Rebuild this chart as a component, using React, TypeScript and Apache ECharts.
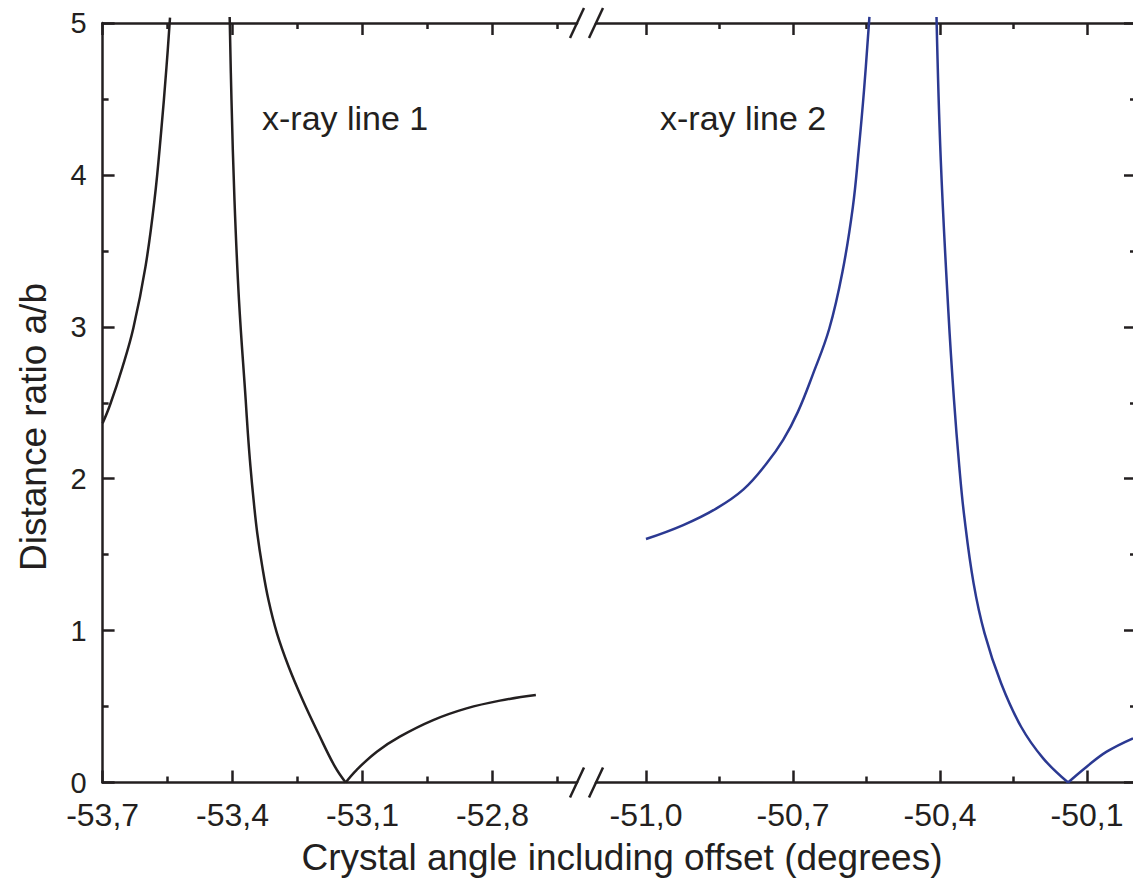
import React, { useEffect, useRef } from "react";
import * as echarts from "echarts";

// ---------- data ----------
const leftMajorTicks = [-53.7, -53.4, -53.1, -52.8];
const leftMinorTicks = [-53.55, -53.25, -52.95, -52.65];
const rightMajorTicks = [-51.0, -50.7, -50.4, -50.1];
const rightMinorTicks = [-50.85, -50.55, -50.25];

// x-ray line 1 (black)
const line1BranchA = [
  [-53.7, 2.365], [-53.6829, 2.485], [-53.6541, 2.735], [-53.6291, 2.99],
  [-53.601, 3.396], [-53.5802, 3.835], [-53.5652, 4.274], [-53.5525, 4.712],
  [-53.5444, 5.035],
];
const line1BranchB = [
  [-53.4067, 5.04], [-53.4025, 4.493], [-53.3956, 3.835], [-53.3852, 3.176],
  [-53.3697, 2.518], [-53.3647, 2.299], [-53.3587, 2.079], [-53.3515, 1.86],
  [-53.343, 1.641], [-53.3314, 1.421], [-53.3171, 1.201], [-53.2975, 0.982],
  [-53.2705, 0.762], [-53.2382, 0.543], [-53.2022, 0.324], [-53.1637, 0.104],
  [-53.139, 0.0],
];
const line1BranchC = [
  [-53.139, 0.0], [-53.114, 0.082], [-53.067, 0.203], [-53.014, 0.302],
  [-52.937, 0.411], [-52.86, 0.488], [-52.783, 0.539], [-52.7, 0.576],
];

// x-ray line 2 (blue)
const line2BranchA = [
  [-51.0, 1.603], [-50.924, 1.695], [-50.856, 1.805], [-50.801, 1.93],
  [-50.754, 2.1], [-50.72, 2.255], [-50.69, 2.44], [-50.66, 2.682],
  [-50.626, 2.987], [-50.599, 3.362], [-50.578, 3.785], [-50.566, 4.16],
  [-50.555, 4.559], [-50.544, 5.04],
];
const line2BranchB = [
  [-50.4071, 5.04], [-50.3984, 4.098], [-50.3829, 3.1], [-50.3714, 2.518],
  [-50.3606, 2.079], [-50.3504, 1.75], [-50.3314, 1.311], [-50.309, 0.982],
  [-50.2753, 0.653], [-50.2345, 0.367], [-50.1894, 0.159], [-50.1386, 0.0],
];
const line2BranchC = [
  [-50.1386, 0.0], [-50.1006, 0.104], [-50.0598, 0.203], [-50.0061, 0.291],
];

const xTitle = "Crystal angle including offset (degrees)";
const yTitle = "Distance ratio a/b";
const label1 = "x-ray line 1";
const label2 = "x-ray line 2";

// ---------- styles ----------
const INK = "#231f20";
const BLUE = "#2b3992";
const FONT = "'Liberation Sans', Arial, Helvetica, sans-serif";
const AXW = 2.5;

const fmt = (v: number) => v.toFixed(1).replace(".", ",");

function xAxisDef(
  gridIndex: number,
  position: "top" | "bottom",
  min: number,
  max: number,
  ticks: number[],
  major: boolean,
  showLine: boolean,
  showLabel: boolean
) {
  return {
    type: "value",
    gridIndex,
    position,
    min,
    max,
    axisLine: { show: showLine, onZero: false, lineStyle: { color: INK, width: AXW } },
    axisTick: {
      show: true,
      inside: true,
      length: major ? 12 : 6,
      customValues: ticks,
      lineStyle: { color: INK, width: AXW },
    },
    axisLabel: {
      show: showLabel,
      customValues: ticks,
      formatter: fmt,
      color: INK,
      fontSize: 32,
      fontFamily: FONT,
      margin: 16,
    },
    splitLine: { show: false },
    minorTick: { show: false },
  };
}

export default function App() {
  const ref = useRef<HTMLDivElement>(null);

  useEffect(() => {
    if (!ref.current) return;
    const chart = echarts.init(ref.current, undefined, { renderer: "svg" });

    const leftMin = -53.7;
    const leftMax = -52.605;
    const rightMin = -51.102;
    const rightMax = -50.0;
    const top = 23;
    const height = 759.5;

    const yAxisCommon = {
      type: "value",
      min: 0,
      max: 5,
      interval: 1,
      axisLine: { show: true, onZero: false, lineStyle: { color: INK, width: AXW } },
      axisTick: { show: true, inside: true, length: 12, lineStyle: { color: INK, width: AXW } },
      minorTick: { show: true, splitNumber: 2, length: 6, lineStyle: { color: INK, width: AXW } },
      splitLine: { show: false },
      minorSplitLine: { show: false },
    };

    const lineSeries = (data: number[][], color: string, xi: number, yi: number, name: string) => ({
      type: "line",
      name,
      xAxisIndex: xi,
      yAxisIndex: yi,
      data,
      symbol: "none",
      smooth: 0.4,
      clip: false,
      lineStyle: { color, width: 2.5 },
      itemStyle: { color },
    });

    const slash = (x1: number, y1: number, x2: number, y2: number) => ({
      type: "line",
      shape: { x1, y1, x2, y2 },
      style: { stroke: INK, lineWidth: 2.5 },
      z: 100,
    });

    chart.setOption({
      animation: false,
      backgroundColor: "#ffffff",
      grid: [
        { left: 102.6, top, width: 474.4, height, containLabel: false, outerBoundsMode: "none" },
        { left: 596, top, width: 540, height, containLabel: false, outerBoundsMode: "none" },
      ],
      xAxis: [
        xAxisDef(0, "bottom", leftMin, leftMax, leftMajorTicks, true, true, true),
        xAxisDef(0, "bottom", leftMin, leftMax, leftMinorTicks, false, false, false),
        xAxisDef(0, "top", leftMin, leftMax, leftMajorTicks, true, true, false),
        xAxisDef(0, "top", leftMin, leftMax, leftMinorTicks, false, false, false),
        xAxisDef(1, "bottom", rightMin, rightMax, rightMajorTicks, true, true, true),
        xAxisDef(1, "bottom", rightMin, rightMax, rightMinorTicks, false, false, false),
        xAxisDef(1, "top", rightMin, rightMax, rightMajorTicks, true, true, false),
        xAxisDef(1, "top", rightMin, rightMax, rightMinorTicks, false, false, false),
      ],
      yAxis: [
        {
          ...yAxisCommon,
          gridIndex: 0,
          position: "left",
          axisLabel: { show: true, color: INK, fontSize: 29, fontFamily: FONT, margin: 16 },
        },
        {
          ...yAxisCommon,
          gridIndex: 1,
          position: "right",
          axisLabel: { show: false },
        },
      ],
      series: [
        lineSeries(line1BranchA, INK, 0, 0, "x-ray line 1"),
        lineSeries(line1BranchB, INK, 0, 0, "x-ray line 1 b"),
        lineSeries(line1BranchC, INK, 0, 0, "x-ray line 1 c"),
        lineSeries(line2BranchA, BLUE, 4, 1, "x-ray line 2"),
        lineSeries(line2BranchB, BLUE, 4, 1, "x-ray line 2 b"),
        lineSeries(line2BranchC, BLUE, 4, 1, "x-ray line 2 c"),
      ],
      graphic: [
        slash(570, 38, 584, 8),
        slash(589, 38, 603, 8),
        slash(570, 797.5, 584, 767.5),
        slash(589, 797.5, 603, 767.5),
        {
          type: "text",
          x: 262,
          y: 118,
          style: {
            text: label1, fill: INK, fontSize: 34, fontFamily: FONT,
            textAlign: "left", textVerticalAlign: "middle", align: "left", verticalAlign: "middle",
          },
        },
        {
          type: "text",
          x: 660,
          y: 118,
          style: {
            text: label2, fill: INK, fontSize: 34, fontFamily: FONT,
            textAlign: "left", textVerticalAlign: "middle", align: "left", verticalAlign: "middle",
          },
        },
        {
          type: "text",
          x: 622,
          y: 857,
          style: {
            text: xTitle, fill: INK, fontSize: 37, fontFamily: FONT,
            textAlign: "center", textVerticalAlign: "middle", align: "center", verticalAlign: "middle",
          },
        },
        {
          type: "text",
          x: 33,
          y: 427,
          rotation: Math.PI / 2,
          style: {
            text: yTitle, fill: INK, fontSize: 37, fontFamily: FONT,
            textAlign: "center", textVerticalAlign: "middle", align: "center", verticalAlign: "middle",
          },
        },
      ],
    });

    return () => chart.dispose();
  }, []);

  return (
    <div
      ref={ref}
      style={{ position: "absolute", left: 0, top: 0, width: 1133, height: 894, background: "#fff" }}
    />
  );
}
